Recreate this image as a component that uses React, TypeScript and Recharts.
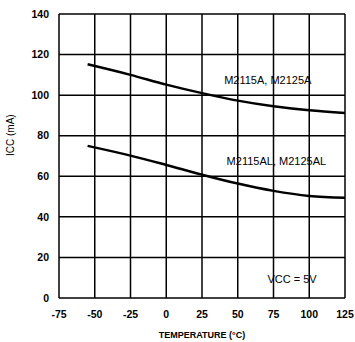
import { LineChart, Line, XAxis, YAxis, CartesianGrid, ReferenceDot } from 'recharts';

const temps = [-55, -25, 0, 25, 50, 75, 100, 125];
const iccStd = [115.2, 110, 105.2, 101, 97.3, 94.5, 92.5, 91.2];
const iccLow = [75, 70.2, 65.6, 60.8, 56.4, 52.8, 50.3, 49.4];
const xTicks = [-75, -50, -25, 0, 25, 50, 75, 100, 125];
const yTicks = [0, 20, 40, 60, 80, 100, 120, 140];

const data = temps.map((t, i) => ({ t, a: iccStd[i], al: iccLow[i] }));

const font = '"Liberation Sans", Arial, sans-serif';
const txt = { fontFamily: font, fontSize: 10.5, fontWeight: 700, fill: '#000' };

function Note({ x, y, children }: { x: number; y: number; children: React.ReactNode }) {
  return (
    <ReferenceDot
      x={x}
      y={y}
      r={1}
      ifOverflow="visible"
      shape={(p: any) => (
        <text x={p.cx} y={p.cy} textAnchor="middle" dominantBaseline="middle" {...txt} fontSize={11} fontWeight={400}>
          {children}
        </text>
      )}
    />
  );
}

export default function App() {
  return (
    <div style={{ position: 'absolute', left: 0, top: 0, background: '#fff' }}>
      <LineChart width={355} height={342} data={data} margin={{ top: 14, right: 10, bottom: 0, left: 0 }}>
        <CartesianGrid stroke="#000" strokeWidth={1.5} />
        <XAxis
          dataKey="t"
          type="number"
          domain={[-75, 125]}
          ticks={xTicks}
          height={44}
          axisLine={false}
          tickLine={false}
          tickSize={0}
          tickMargin={13}
          tick={txt}
          label={{ value: 'TEMPERATURE (°C)', position: 'insideBottom', offset: 4, fontFamily: font, fontSize: 9, fontWeight: 700, fill: '#000' }}
        />
        <YAxis
          type="number"
          domain={[0, 140]}
          ticks={yTicks}
          width={59}
          axisLine={false}
          tickLine={false}
          tickSize={0}
          tickMargin={10}
          tick={txt}
          label={{ value: 'ICC (mA)', angle: -90, position: 'insideLeft', offset: 10, fontFamily: font, fontSize: 10, fill: '#000' }}
        />
        <Line dataKey="a" type="monotone" stroke="#000" strokeWidth={2.5} dot={false} isAnimationActive={false} />
        <Line dataKey="al" type="monotone" stroke="#000" strokeWidth={2.5} dot={false} isAnimationActive={false} />
        <Note x={71} y={107}>M2115A, M2125A</Note>
        <Note x={77} y={67}>M2115AL, M2125AL</Note>
        <Note x={88} y={9}>VCC = 5V</Note>
      </LineChart>
    </div>
  );
}
